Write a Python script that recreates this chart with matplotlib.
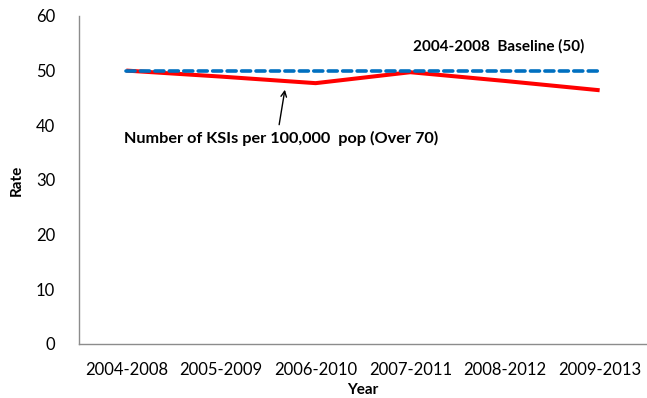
import matplotlib.pyplot as plt

plt.rcParams['font.family'] = ['Lato', 'DejaVu Sans']

# 5-year rolling periods
periods = ['2004-2008', '2005-2009', '2006-2010', '2007-2011', '2008-2012', '2009-2013']
ksi_rate = [50.0, 48.9, 47.7, 49.7, 48.1, 46.4]
baseline = [50, 50, 50, 50, 50, 50]

fig = plt.figure(figsize=(6.47, 3.98), dpi=100)
ax = fig.add_axes([0.122, 0.136, 0.878, 0.824])

x = range(len(periods))
ax.plot(x, ksi_rate, color='#ff0000', lw=2.9, solid_capstyle='butt', zorder=2)
ax.plot(x, baseline, color='#0070c0', lw=2.6, ls=(0, (2.5, 1.5)),
        dash_capstyle='round', zorder=3)

ax.set_xlim(-0.5, 5.5)
ax.set_ylim(0, 60)
ax.set_yticks(range(0, 61, 10))
ax.set_xticks(list(x))
ax.set_xticklabels(periods)
ax.tick_params(length=0, labelsize=12, pad=13)
ax.tick_params(axis='y', pad=17)

for side in ['top', 'right']:
    ax.spines[side].set_visible(False)
for side in ['left', 'bottom']:
    ax.spines[side].set_color('#8c8c8c')
    ax.spines[side].set_linewidth(1)

ax.set_xlabel('Year', fontsize=11, fontweight='bold', labelpad=4)
ax.set_ylabel('Rate', fontsize=11, fontweight='bold', labelpad=9)

ax.text(3.03, 54.5, '2004-2008  Baseline (50)', fontsize=11, fontweight='bold', ha='left', va='center')
ax.text(-0.02, 37.5, 'Number of KSIs per 100,000  pop (Over 70)', fontsize=11.7, fontweight='bold',
        ha='left', va='center')
ax.annotate('', xy=(1.68, 47.0), xytext=(1.61, 39.6),
            arrowprops=dict(arrowstyle='->', color='black', lw=1))

fig.savefig('out.png', dpi=100)
